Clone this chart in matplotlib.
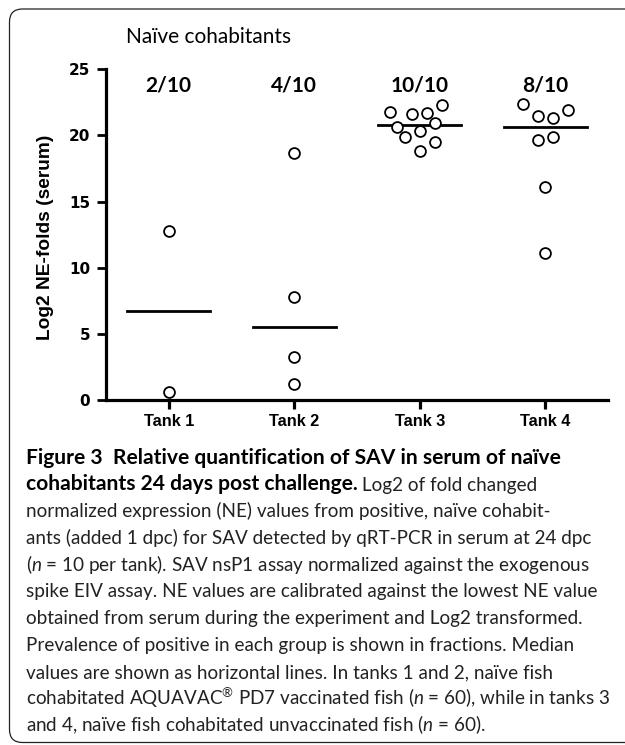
import matplotlib
matplotlib.use('Agg')
import matplotlib.pyplot as plt
from matplotlib.patches import FancyBboxPatch
import numpy as np

plt.rcParams['mathtext.fontset'] = 'custom'
plt.rcParams['mathtext.rm'] = 'Lato'
plt.rcParams['mathtext.it'] = 'Lato:italic'

# data
tanks = ['Tank 1', 'Tank 2', 'Tank 3', 'Tank 4']
fractions = ['2/10', '4/10', '10/10', '8/10']
tank1 = [12.75, 0.63]
tank2 = [18.69, 7.81, 3.23, 1.21]
tank3 = [21.79, 21.59, 21.72, 22.32, 20.63, 20.91, 20.33, 19.90, 19.52, 18.82]
tank4 = [22.40, 21.49, 21.34, 21.92, 19.65, 19.90, 16.08, 11.13]
# horizontal scatter of the points inside each column
jitter1 = [0, 0]
jitter2 = [0, 0, 0, 0]
jitter3 = [-0.24, -0.06, 0.06, 0.18, -0.18, 0.12, 0, -0.12, 0.12, 0]
jitter4 = [-0.18, -0.06, 0.06, 0.18, -0.06, 0.06, 0, 0]
yticks = [0, 5, 10, 15, 20, 25]

caption = [
    [("Figure 3  Relative quantification of SAV in serum of naïve", 'bold')],
    [("cohabitants 24 days post challenge.", 'bold'), (" Log2 of fold changed", 'normal')],
    [("normalized expression (NE) values from positive, naïve cohabit-", 'normal')],
    [("ants (added 1 dpc) for SAV detected by qRT-PCR in serum at 24 dpc", 'normal')],
    [("($n$ = 10 per tank). SAV nsP1 assay normalized against the exogenous", 'normal')],
    [("spike EIV assay. NE values are calibrated against the lowest NE value", 'normal')],
    [("obtained from serum during the experiment and Log2 transformed.", 'normal')],
    [("Prevalence of positive in each group is shown in fractions. Median", 'normal')],
    [("values are shown as horizontal lines. In tanks 1 and 2, naïve fish", 'normal')],
    [("cohabitated AQUAVAC$^{®}$ PD7 vaccinated fish ($n$ = 60), while in tanks 3", 'normal')],
    [("and 4, naïve fish cohabitated unvaccinated fish ($n$ = 60).", 'normal')],
]

fig = plt.figure(figsize=(6.25, 7.45), dpi=100)
ax = fig.add_axes([0.1696, 0.4631, 0.8032, 0.4439])

groups = [tank1, tank2, tank3, tank4]
jitters = [jitter1, jitter2, jitter3, jitter4]
for i, (vals, jit) in enumerate(zip(groups, jitters)):
    pos = i + 1
    ax.plot(pos + np.array(jit), vals, 'o', ms=7.8, mfc='white', mec='black', mew=1.3,
            clip_on=False, zorder=3)
    med = np.median(vals)
    ax.plot([pos - 0.33, pos + 0.33], [med, med], color='black', lw=2.0, zorder=2)
    ax.text(pos, 23.3, fractions[i], ha='center', va='baseline', fontsize=15,
            fontweight='bold', family='Lato')

ax.set_xlim(0.5, 4.5)
ax.set_ylim(0, 25)
ax.set_xticks(range(1, 5))
ax.set_xticklabels(tanks, fontsize=11.7, fontweight='bold', family='Liberation Sans')
ax.set_yticks(yticks)
ax.set_yticklabels([str(t) for t in yticks], fontsize=11, fontweight='bold',
                   family='DejaVu Sans')
for s in ['top', 'right']:
    ax.spines[s].set_visible(False)
for s in ['left', 'bottom']:
    ax.spines[s].set_linewidth(2.3)
ax.tick_params(axis='y', length=6.5, width=2, pad=5)
ax.tick_params(axis='x', length=6.5, width=2.3, pad=3.5)

fig.text(46 / 625, 1 - 237 / 745, 'Log2 NE-folds (serum)', rotation=90, ha='center',
         va='center', fontsize=13.8, fontweight='bold', family='Liberation Sans')
fig.text(126.5 / 625, 1 - 43 / 745, 'Naïve cohabitants', ha='left', va='baseline',
         fontsize=15, family='Lato')

# caption lines
y0 = 463.5
for k, parts in enumerate(caption):
    y = 1 - (y0 + k * 26.8) / 745
    prev = None
    for txt, wt in parts:
        col = 'black' if wt == 'bold' else '#222222'
        size = 15.1 if wt == 'bold' else 13.6
        if prev is None:
            prev = fig.text(25.5 / 625, y, txt, ha='left', va='baseline', fontsize=size,
                            fontweight=wt, family='Lato', color=col)
        else:
            prev = ax.annotate(txt, xy=(1, 0), xycoords=prev, ha='left', va='bottom',
                               fontsize=size, fontweight=wt, family='Lato', color=col,
                               annotation_clip=False)

border = FancyBboxPatch((0.095, 0.025), 6.5, 7.335, boxstyle='round,pad=0,rounding_size=0.13',
                        transform=fig.dpi_scale_trans, fill=False, ec='#222222', lw=0.9)
fig.patches.append(border)

fig.savefig('out.png', dpi=100)
